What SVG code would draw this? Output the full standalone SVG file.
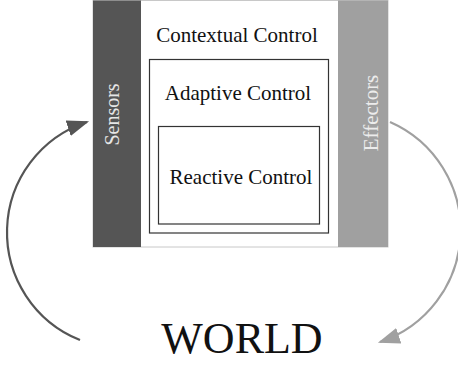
<svg xmlns="http://www.w3.org/2000/svg" width="458" height="365" viewBox="0 0 458 365">
<style>
text{font-family:"Liberation Serif","Times New Roman",serif;text-anchor:middle}
.lbl{font-size:21px;fill:#111}
.side{font-size:20px}
.box{fill:none;stroke:#333;stroke-width:1.2}
</style>
<defs>
<marker id="ahL" viewBox="0 0 10 10" refX="9" refY="5" markerWidth="22" markerHeight="22" markerUnits="userSpaceOnUse" orient="auto">
<path d="M0,1.3 L10,5 L0,8.7 Z" fill="#555"/>
</marker>
<marker id="ahR" viewBox="0 0 10 10" refX="9" refY="5" markerWidth="22" markerHeight="22" markerUnits="userSpaceOnUse" orient="auto">
<path d="M0,1.3 L10,5 L0,8.7 Z" fill="#a0a0a0"/>
</marker>
</defs>
<rect width="458" height="365" fill="#fff"/>
<g id="contextual">
<rect x="93" y="0.5" width="295" height="246.5" fill="#fff" stroke="#c8c8c8" stroke-width="1"/>
<text class="lbl" x="237" y="42">Contextual Control</text>
</g>
<g id="sensors">
<rect x="93" y="0.5" width="48" height="246.5" fill="#555"/>
<text class="side" fill="#e6e6e6" transform="translate(119,114.5) rotate(-90)">Sensors</text>
</g>
<g id="effectors">
<rect x="338" y="0.5" width="50" height="246.5" fill="#a0a0a0"/>
<text class="side" style="font-size:21px" fill="#ececec" transform="translate(378,113) rotate(-90)">Effectors</text>
</g>
<g id="adaptive">
<rect class="box" x="149.5" y="59.5" width="179" height="173.5"/>
<text class="lbl" x="238" y="100">Adaptive Control</text>
</g>
<g id="reactive">
<rect class="box" x="158.5" y="126.5" width="161" height="97.5"/>
<text class="lbl" x="241" y="184">Reactive Control</text>
</g>
<g id="world">
<text x="242" y="353" style="font-size:44px" fill="#111">WORLD</text>
</g>
<g id="connectors" fill="none" stroke-width="2.2">
<path d="M80,340 A116,116 0 0 1 87,122" stroke="#555" marker-end="url(#ahL)"/>
<path d="M390,122 A118,118 0 0 1 380,342" stroke="#a0a0a0" marker-end="url(#ahR)"/>
</g>
</svg>
